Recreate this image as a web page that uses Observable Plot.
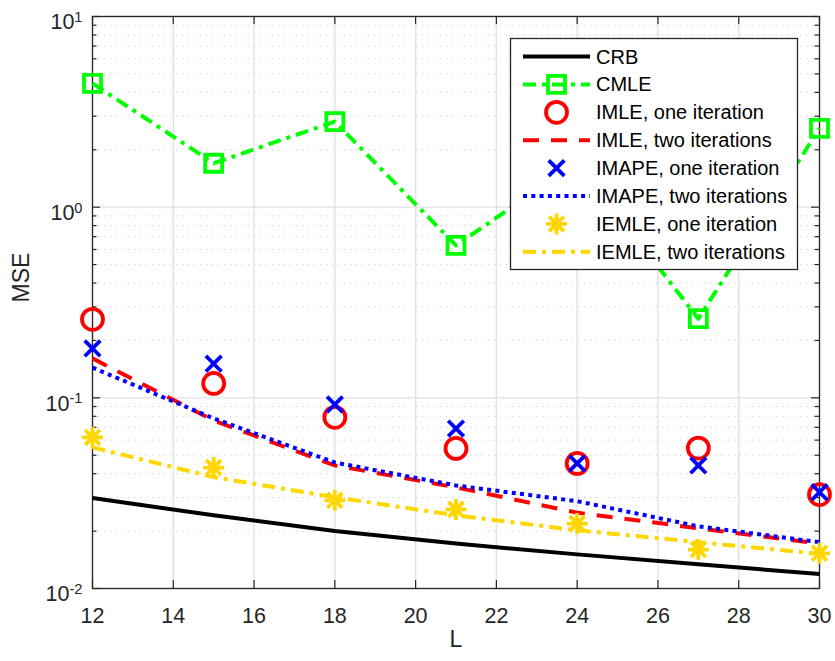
<!DOCTYPE html>
<html><head><meta charset="utf-8">
<script src="https://cdn.jsdelivr.net/npm/d3@7"></script>
<script src="https://cdn.jsdelivr.net/npm/@observablehq/plot@0.6"></script>
<style>
body{margin:0;background:#fff;}
#chart{position:relative;width:835px;height:661px;}
</style>
</head><body><div id="chart"></div>
<script>
// ---- data ----
const L = [12, 15, 18, 21, 24, 27, 30];
const crb    = [0.0298, 0.0242, 0.0200, 0.0172, 0.0151, 0.0134, 0.0119];
const cmle   = [4.46, 1.70, 2.81, 0.63, 1.72, 0.26, 2.59];
const imle1  = [0.258, 0.119, 0.079, 0.0543, 0.0453, 0.0545, 0.0311];
const imle2  = [0.161, 0.076, 0.0442, 0.0339, 0.0250, 0.0207, 0.0172];
const imape1 = [0.1816, 0.151, 0.0923, 0.069, 0.0453, 0.0442, 0.032];
const imape2 = [0.144, 0.078, 0.0458, 0.0347, 0.0287, 0.0212, 0.0175];
const iemle1 = [0.062, 0.0431, 0.029, 0.026, 0.0219, 0.016, 0.0153];
const iemle2 = [0.055, 0.0384, 0.0301, 0.0242, 0.0202, 0.0175, 0.0152];

const seriesNames = ["CRB", "CMLE", "IMLE, one iteration", "IMLE, two iterations",
  "IMAPE, one iteration", "IMAPE, two iterations", "IEMLE, one iteration", "IEMLE, two iterations"];
const xTicks = [12, 14, 16, 18, 20, 22, 24, 26, 28, 30];
const yTicks = [0.01, 0.1, 1, 10];
const yTickLabels = ["10^-2", "10^-1", "10^0", "10^1"];
const yMinor = [0.02, 0.03, 0.04, 0.05, 0.06, 0.07, 0.08, 0.09,
                0.2, 0.3, 0.4, 0.5, 0.6, 0.7, 0.8, 0.9,
                2, 3, 4, 5, 6, 7, 8, 9];
const xLabel = "L";
const yLabel = "MSE";

// ---- custom symbols (r = half size) ----
const symSquare = {draw(c, s){ const r = Math.sqrt(s/Math.PI); c.moveTo(-r,-r); c.lineTo(r,-r); c.lineTo(r,r); c.lineTo(-r,r); c.closePath(); }};
const symTimes = {draw(c, s){ const r = Math.sqrt(s/Math.PI); c.moveTo(-r,-r); c.lineTo(r,r); c.moveTo(-r,r); c.lineTo(r,-r); }};
const symAst = {draw(c, s){ const r = Math.sqrt(s/Math.PI); const d = r*Math.SQRT1_2;
  c.moveTo(0,-r); c.lineTo(0,r); c.moveTo(-r,0); c.lineTo(r,0);
  c.moveTo(-d,-d); c.lineTo(d,d); c.moveTo(-d,d); c.lineTo(d,-d); }};

const GREEN = "#00ff00", RED = "#ff0000", BLUE = "#0000ff", YEL = "#ffd700", BLK = "#000000";
const DASHDOT = "13,6,4,6";
const series = [
  {name: seriesNames[0], vals: crb,    color: BLK,   line: true, dash: null},
  {name: seriesNames[1], vals: cmle,   color: GREEN, line: true, dash: DASHDOT, symbol: symSquare, r: 8.5},
  {name: seriesNames[2], vals: imle1,  color: RED,   line: false, symbol: "circle", r: 10.5},
  {name: seriesNames[3], vals: imle2,  color: RED,   line: true, dash: "16,12"},
  {name: seriesNames[4], vals: imape1, color: BLUE,  line: false, symbol: symTimes, r: 7.8},
  {name: seriesNames[5], vals: imape2, color: BLUE,  line: true, dash: "4,4.3"},
  {name: seriesNames[6], vals: iemle1, color: YEL,   line: false, symbol: symAst, r: 10.5},
  {name: seriesNames[7], vals: iemle2, color: YEL,   line: true, dash: DASHDOT}
];

const ML = 92, MR = 16, MT = 16, MB = 73, W = 835, H = 661;
const FW = W - ML - MR, FH = H - MT - MB;
const AX = "#262626";
const FONT = "'Liberation Sans', Arial, Helvetica, sans-serif";

const marks = [
  Plot.ruleY(yMinor, {y: d => d, stroke: "#cccccc", strokeWidth: 1, strokeDasharray: "1.2,4.8"}),
  Plot.ruleX(xTicks, {x: d => d, stroke: "#e2e2e2", strokeWidth: 1.4}),
  Plot.ruleY(yTicks, {y: d => d, stroke: "#e2e2e2", strokeWidth: 1.4}),
  Plot.tickX(xTicks, {x: d => d, insetTop: FH - 8, stroke: AX, strokeWidth: 1.2}),
  Plot.tickX(xTicks, {x: d => d, insetBottom: FH - 8, stroke: AX, strokeWidth: 1.2}),
  Plot.tickY(yTicks, {y: d => d, insetRight: FW - 8, stroke: AX, strokeWidth: 1.2}),
  Plot.tickY(yTicks, {y: d => d, insetLeft: FW - 8, stroke: AX, strokeWidth: 1.2}),
  Plot.tickY(yMinor, {y: d => d, insetRight: FW - 4.5, stroke: AX, strokeWidth: 1.2}),
  Plot.tickY(yMinor, {y: d => d, insetLeft: FW - 4.5, stroke: AX, strokeWidth: 1.2}),
  Plot.frame({stroke: AX, strokeWidth: 1.3}),
  Plot.axisX({ticks: xTicks, tickSize: 0, tickPadding: 19, fontSize: 21.5, fill: AX, label: null, tickFormat: d => String(d)}),
  Plot.axisY({ticks: yTicks, tickSize: 0, tickPadding: 10, fontSize: 21.5, fill: AX, label: null, dy: 6,
    tickFormat: d => yTickLabels[yTicks.indexOf(d)]}),
  Plot.text([xLabel], {text: d => d, frameAnchor: "bottom", dy: 58, fontSize: 23, fill: AX}),
  Plot.text([yLabel], {text: d => d, frameAnchor: "left", dx: -71, rotate: -90, fontSize: 23, fill: AX})
];

series.forEach(s => {
  const data = L.map((l, i) => ({L: l, v: s.vals[i]}));
  if (s.line) marks.push(Plot.line(data, {x: "L", y: "v", stroke: s.color, strokeWidth: 4,
      strokeDasharray: s.dash || undefined, strokeLinecap: "butt", strokeLinejoin: "round"}));
  if (s.symbol) marks.push(Plot.dot(data, {x: "L", y: "v", symbol: s.symbol, r: s.r, stroke: s.color,
      strokeWidth: 3.8, fill: "none"}));
});

const plot = Plot.plot({
  width: W, height: H,
  marginLeft: ML, marginRight: MR, marginTop: MT, marginBottom: MB,
  x: {domain: [12, 30]},
  y: {type: "log", domain: [0.01, 10]},
  style: {fontFamily: FONT, background: "#fff", overflow: "visible"},
  marks
});
document.getElementById("chart").appendChild(plot);

// superscript exponents on y tick labels
const svg = d3.select(plot);
svg.selectAll('g[aria-label="y-axis tick label"] text').each(function(){
  const t = d3.select(this);
  const s = t.text();
  if (s.indexOf("^") < 0) return;
  const [base, ex] = s.split("^");
  t.text(null);
  t.append("tspan").text(base);
  t.append("tspan").attr("dy", "-0.5em").attr("font-size", "0.68em").text(ex);
});

// legend
const lg = svg.append("g").attr("font-family", FONT).attr("font-size", 20).attr("fill", "#000")
  .attr("text-anchor", "start");
lg.append("rect").attr("x", 510.5).attr("y", 38.5).attr("width", 287).attr("height", 231)
  .attr("fill", "#fff").attr("stroke", AX).attr("stroke-width", 1.3);
series.forEach((s, i) => {
  const cy = 56.5 + i * 27.9;
  if (s.line) lg.append("line").attr("x1", 523).attr("x2", 590).attr("y1", cy).attr("y2", cy)
    .attr("stroke", s.color).attr("stroke-width", 4).attr("stroke-dasharray", s.dash || null);
  if (s.symbol) {
    const type = s.symbol === "circle" ? d3.symbolCircle : s.symbol;
    lg.append("path").attr("transform", `translate(556.5,${cy})`)
      .attr("d", d3.symbol(type, Math.PI * s.r * s.r)())
      .attr("fill", "none").attr("stroke", s.color).attr("stroke-width", 3.8);
  }
  lg.append("text").attr("x", 596).attr("y", cy).attr("dy", "0.35em")
    .attr("text-anchor", "start").text(s.name);
});
</script>
</body></html>
